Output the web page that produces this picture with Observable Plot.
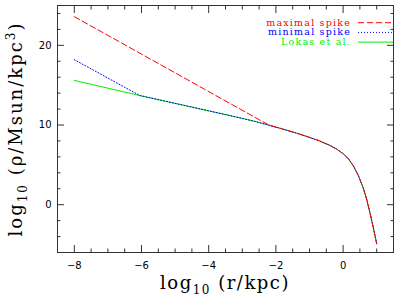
<!DOCTYPE html>
<html><head><meta charset="utf-8">
<script src="https://cdn.jsdelivr.net/npm/d3@7"></script>
<script src="https://cdn.jsdelivr.net/npm/@observablehq/plot@0.6"></script>
<style>body{margin:0;background:#fff} svg{display:block}</style>
</head><body><div id="chart"></div>
<script>
// Series names, colours and dash styles (legend order)
const seriesNames = ["maximal spike", "minimal spike", "Lokas et al."];
const seriesColors = ["#ff0000", "#0000ff", "#00ee00"];
const seriesDash = ["6,3", "1,2", null];

// Lokas et al. profile: log10 r [kpc] vs log10 rho [Msun/kpc^3]
const lokasX = [-8, -6.05, -4, -3, -2.6, -2.2, -1.8, -1.4, -1.0, -0.7, -0.4, -0.2, 0.0, 0.15, 0.3, 0.45, 0.6, 0.7, 0.8, 0.9, 1.0];
const lokasY = [15.6, 13.7, 11.78, 10.83, 10.43, 9.97, 9.5, 9.0, 8.45, 8.0, 7.45, 7.0, 6.4, 5.8, 4.9, 3.7, 2.1, 0.7, -1.0, -2.9, -4.9];
// spike segments (inner part); outside they follow the Lokas profile
const minimalX = [-8, -6.05];
const minimalY = [18.2, 13.7];
const maximalX = [-8, -2.2];
const maximalY = [23.6, 9.97];

// ticks
const xMajor = [-8, -6, -4, -2, 0];
const xMinor = [-8.5,-7.5,-7,-6.5,-5.5,-5,-4.5,-3.5,-3,-2.5,-1.5,-1,-0.5,0.5,1,1.5];
const yMajor = [0, 10, 20];
const yMinor = [-6,-4,-2,2,4,6,8,12,14,16,18,22,24];

function build(sx, sy) {
  const pts = sx.map((x, i) => ({x, y: sy[i]}));
  const last = sx[sx.length - 1];
  lokasX.forEach((x, i) => { if (x > last) pts.push({x, y: lokasY[i]}); });
  return pts;
}
const lokas = lokasX.map((x, i) => ({x, y: lokasY[i]}));
const minimal = build(minimalX, minimalY);
const maximal = build(maximalX, maximalY);
const seriesData = [maximal, minimal, lokas];

const fmt = d => d < 0 ? "\u2212" + Math.abs(d) : String(d);

const legend = (index, scales, values, dim) => {
  const g = d3.create("svg:g");
  const right = dim.width - dim.marginRight;
  seriesNames.forEach((name, i) => {
    const yy = 22.7 + i * 9.7;
    g.append("text").attr("x", right - 42).attr("y", yy).attr("dy", "0.32em")
      .attr("text-anchor", "end").attr("fill", seriesColors[i])
      .attr("font-family", "DejaVu Serif").attr("font-size", 9.5)
      .attr("letter-spacing", 1.2).text(name);
    g.append("line").attr("x1", right - 35).attr("x2", right).attr("y1", yy).attr("y2", yy)
      .attr("stroke", seriesColors[i]).attr("stroke-width", 1)
      .attr("stroke-dasharray", seriesDash[i]);
  });
  return g.node();
};

const chart = Plot.plot({
  width: 415, height: 297,
  marginLeft: 57, marginRight: 22, marginTop: 5, marginBottom: 45,
  style: {fontFamily: "DejaVu Sans", fontSize: "10px", color: "#000", background: "#fff"},
  x: {domain: [-8.5, 1.5], label: null},
  y: {domain: [-6, 25], label: null},
  marks: [
    Plot.frame({stroke: "#333", strokeWidth: 1}),
    // labels
    Plot.axisX({ticks: xMajor, tickSize: 0, tickPadding: 9, tickFormat: fmt, label: null}),
    Plot.axisY({ticks: yMajor, tickSize: 0, tickPadding: 6, tickFormat: fmt, label: null}),
    // inward ticks
    Plot.axisX({anchor: "bottom", ticks: xMajor, tickSize: -7, tickFormat: () => "", label: null, stroke: "#333"}),
    Plot.axisX({anchor: "bottom", ticks: xMinor, tickSize: -3.5, tickFormat: () => "", label: null, stroke: "#333"}),
    Plot.axisX({anchor: "top", ticks: xMajor, tickSize: -7, tickFormat: () => "", label: null, stroke: "#333"}),
    Plot.axisX({anchor: "top", ticks: xMinor, tickSize: -3.5, tickFormat: () => "", label: null, stroke: "#333"}),
    Plot.axisY({anchor: "left", ticks: yMajor, tickSize: -7, tickFormat: () => "", label: null, stroke: "#333"}),
    Plot.axisY({anchor: "left", ticks: yMinor, tickSize: -3.5, tickFormat: () => "", label: null, stroke: "#333"}),
    Plot.axisY({anchor: "right", ticks: yMajor, tickSize: -7, tickFormat: () => "", label: null, stroke: "#333"}),
    Plot.axisY({anchor: "right", ticks: yMinor, tickSize: -3.5, tickFormat: () => "", label: null, stroke: "#333"}),
    // curves: Lokas first, then minimal, then maximal on top
    ...[2, 1, 0].map(i => Plot.line(seriesData[i], {
      x: "x", y: "y", curve: "linear",
      stroke: seriesColors[i], strokeWidth: 1, strokeDasharray: seriesDash[i]
    })),
    legend
  ]
});
document.getElementById("chart").append(chart);

// axis titles with sub/superscripts
const svg = d3.select(chart);
const xt = svg.append("text").attr("x", 225).attr("y", 289).attr("text-anchor", "middle")
  .attr("font-family", "DejaVu Serif").attr("font-size", 18).attr("letter-spacing", 1.5).attr("fill", "#000");
xt.append("tspan").text("log");
xt.append("tspan").attr("font-size", 12).attr("dy", 5).text("10");
xt.append("tspan").attr("dy", -5).text(" (r/kpc)");

const yt = svg.append("text").attr("transform", "translate(22,129) rotate(-90)").attr("text-anchor", "middle")
  .attr("font-family", "DejaVu Serif").attr("font-size", 18).attr("letter-spacing", 2).attr("fill", "#000");
yt.append("tspan").text("log");
yt.append("tspan").attr("font-size", 12).attr("dy", 5).text("10");
yt.append("tspan").attr("dy", -5).text(" (\u03c1/Msun/kpc");
yt.append("tspan").attr("font-size", 12).attr("dy", -7).text("3");
yt.append("tspan").attr("dy", 7).text(")");
</script>
</body></html>
